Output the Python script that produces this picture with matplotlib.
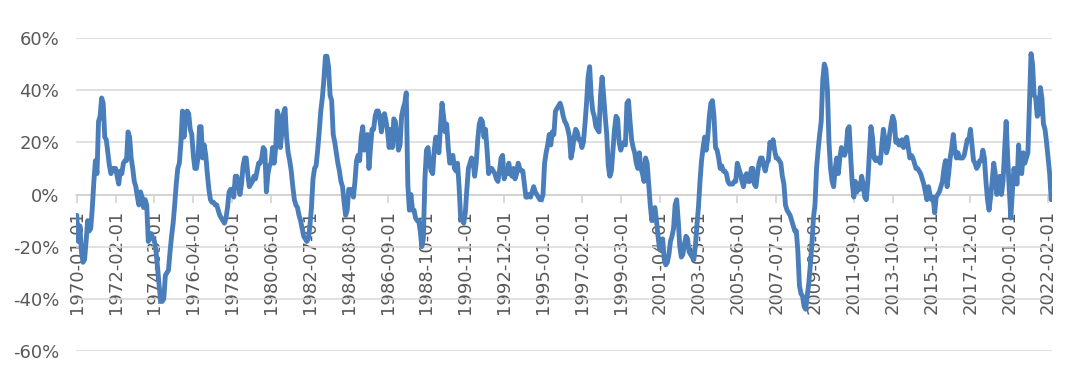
import numpy as np
import pandas as pd
import matplotlib
matplotlib.use("Agg")
import matplotlib.pyplot as plt

# monthly year-over-year change (%), one list per decade
yoy_1970s = [
    -8, -18, -12, -22, -26, -25, -18, -10, -14, -13, -5, 5,
    13, 8, 28, 30, 37, 35, 22, 21, 16, 11, 8, 10,
    10, 10, 7, 4, 9, 8, 12, 13, 13, 24, 22, 14,
    10, 5, 3, -1, -4, 1, -1, -5, -2, -4, -18, -15,
    -15, -17, -18, -22, -28, -35, -41, -41, -40, -31, -30, -29,
    -22, -16, -11, -4, 4, 10, 12, 20, 32, 22, 30, 32,
    31, 25, 23, 15, 10, 10, 14, 26, 26, 14, 19, 15,
    8, 2, -2, -3, -3, -4, -4, -6, -8, -9, -10, -11,
    -9, -5, 1, 2, 2, -1, 7, 7, 4, 0, 4, 11,
    14, 14, 8, 3, 4, 5, 7, 6, 9, 12, 12, 14,
]
yoy_1980s = [
    18, 17, 1, 8, 11, 12, 18, 12, 18, 32, 30, 18,
    24, 31, 33, 22, 16, 13, 9, 3, -2, -4, -5, -8,
    -10, -13, -16, -17, -18, -17, -12, -5, 6, 10, 11, 17,
    24, 32, 37, 44, 53, 53, 49, 38, 36, 23, 20, 16,
    12, 9, 5, 3, -3, -8, -6, 2, 1, 2, -1, 5,
    13, 15, 13, 22, 26, 17, 21, 23, 10, 18, 25, 25,
    30, 32, 32, 29, 24, 30, 31, 28, 24, 18, 25, 18,
    29, 28, 22, 17, 19, 30, 33, 35, 39, 4, -6, 0,
    -6, -6, -9, -10, -10, -14, -20, -17, 6, 17, 18, 12,
    9, 8, 17, 22, 21, 16, 26, 35, 30, 24, 27, 18,
]
yoy_1990s = [
    12, 13, 15, 10, 9, 12, 3, -9, -10, -11, -7, 2,
    10, 12, 14, 13, 7, 12, 21, 27, 29, 28, 22, 25,
    17, 8, 10, 10, 9, 8, 6, 5, 9, 14, 15, 6,
    8, 8, 12, 8, 7, 10, 6, 8, 12, 10, 9, 9,
    4, -1, -1, 0, -1, 1, 3, 1, 0, -1, -2, -2,
    0, 12, 16, 19, 23, 19, 24, 23, 32, 33, 34, 35,
    33, 30, 28, 27, 25, 22, 14, 17, 22, 25, 24, 21,
    21, 18, 20, 27, 35, 45, 49, 38, 32, 30, 26, 25,
    24, 38, 45, 38, 30, 23, 11, 7, 9, 17, 25, 30,
    29, 20, 17, 19, 20, 19, 35, 36, 28, 21, 18, 16,
]
yoy_2000s = [
    12, 10, 16, 10, 8, 5, 14, 12, 4, -4, -10, -7,
    -5, -10, -16, -21, -19, -17, -25, -27, -26, -23, -18, -16,
    -13, -4, -2, -10, -20, -24, -23, -19, -16, -17, -22, -23,
    -24, -25, -20, -12, -5, 5, 13, 18, 22, 17, 22, 30,
    35, 36, 30, 18, 17, 14, 10, 11, 9, 9, 8, 5,
    4, 4, 4, 5, 5, 12, 10, 8, 5, 3, 7, 8,
    5, 5, 10, 10, 4, 3, 8, 12, 14, 14, 11, 9,
    12, 13, 20, 18, 21, 17, 14, 14, 13, 12, 7, 4,
    -4, -6, -7, -8, -10, -12, -14, -14, -22, -35, -38, -39,
    -43, -44, -39, -34, -27, -19, -9, -4, 10, 17, 23, 28,
]
yoy_2010s = [
    44, 50, 48, 40, 20, 10, 5, 3, 10, 14, 8, 14,
    18, 16, 15, 17, 25, 26, 14, 4, -1, 5, 1, 4,
    2, 7, 4, -1, -2, 5, 16, 26, 22, 14, 13, 14,
    13, 12, 19, 25, 21, 16, 18, 23, 27, 30, 28, 20,
    21, 19, 19, 21, 18, 21, 22, 18, 14, 15, 14, 12,
    10, 10, 9, 8, 6, 4, 1, -2, 3, 0, -2, -1,
    -7, -1, 0, 1, 3, 5, 10, 13, 3, 8, 14, 18,
    23, 17, 14, 16, 14, 14, 14, 15, 18, 21, 21, 25,
    19, 13, 12, 10, 11, 13, 13, 17, 14, 5, -2, -6,
    -1, 5, 12, 8, 0, 3, 7, 0, 5, 17, 28, 14,
]
yoy_2020s = [
    2, -9, 1, 10, 7, 4, 19, 9, 8, 16, 12, 14,
    16, 35, 54, 50, 38, 37, 30, 31, 41, 37, 27, 25,
    20, 14, 8, -2,
]

yoy = yoy_1970s + yoy_1980s + yoy_1990s + yoy_2000s + yoy_2010s + yoy_2020s
dates = pd.date_range("1970-01-01", periods=len(yoy), freq="MS")
x = np.arange(len(yoy))

yticks = [-60, -40, -20, 0, 20, 40, 60]
label_step = 25

fig = plt.figure(figsize=(10.8, 3.74), dpi=100)
ax = fig.add_axes([76 / 1080, 1 - 351 / 374, (1052 - 76) / 1080, (351 - 38) / 374])

ax.plot(x, yoy, color="#4a7ebb", lw=3.5, solid_joinstyle="round",
        solid_capstyle="round", zorder=3)

ax.set_xlim(-0.5, len(yoy) - 0.5)
ax.set_ylim(-60, 60)
ax.set_yticks(yticks)
ax.set_yticklabels([f"{v}%" for v in yticks])
ax.grid(axis="y", color="#d9d9d9", lw=1.1)
ax.set_axisbelow(True)

for s in ["left", "right", "top"]:
    ax.spines[s].set_visible(False)
ax.spines["bottom"].set_position(("data", 0))
ax.spines["bottom"].set_color("#d0d0d0")
ax.spines["bottom"].set_linewidth(1.1)

tick_idx = x[::label_step]
ax.set_xticks(tick_idx)
ax.set_xticklabels([dates[i].strftime("%Y-%m-%d") for i in tick_idx], rotation=90)

ax.tick_params(axis="y", length=0, pad=12, labelsize=13, labelcolor="#595959")
ax.tick_params(axis="x", length=6, width=1.1, color="#d0d0d0", pad=5,
               labelsize=13, labelcolor="#595959")

fig.savefig("out.png", dpi=100)
